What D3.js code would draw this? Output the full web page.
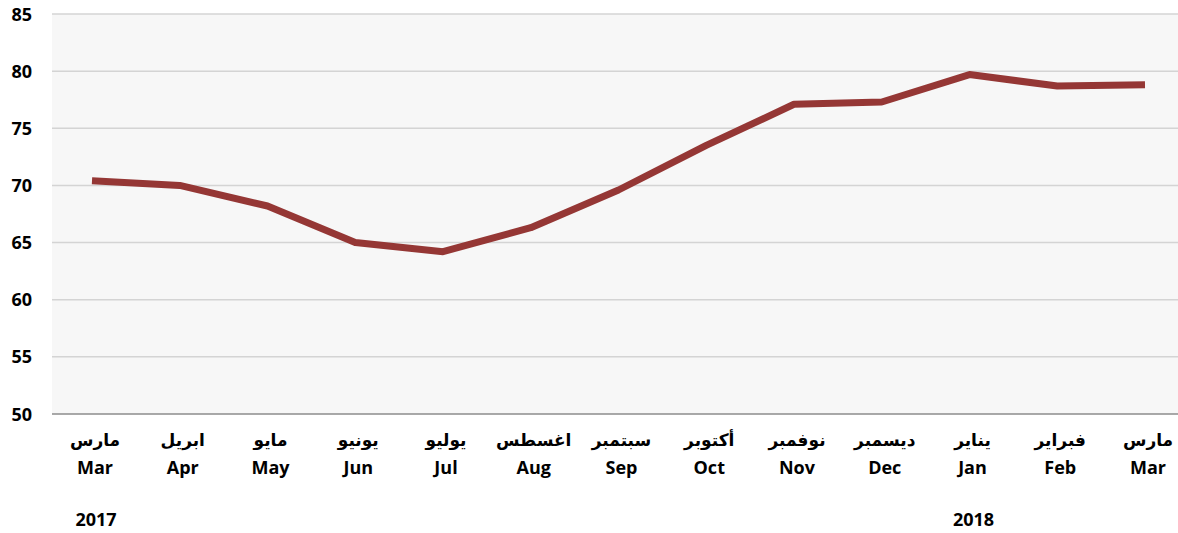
<!DOCTYPE html>
<html>
<head>
<meta charset="utf-8">
<script src="https://cdn.jsdelivr.net/npm/d3@7"></script>
<style>
  body { margin: 0; background: #fff; }
  text { font-family: "Open Sans", "DejaVu Sans", sans-serif; font-weight: bold; fill: #000; }
</style>
</head>
<body>
<script>
// data
var monthsEn = ["Mar", "Apr", "May", "Jun", "Jul", "Aug", "Sep", "Oct", "Nov", "Dec", "Jan", "Feb", "Mar"];
var monthsAr = ["مارس", "ابريل", "مايو", "يونيو", "يوليو", "اغسطس", "سبتمبر", "أكتوبر", "نوفمبر", "ديسمبر", "يناير", "فبراير", "مارس"];
var values = [70.4, 70.0, 68.2, 65.0, 64.2, 66.3, 69.6, 73.5, 77.1, 77.3, 79.7, 78.7, 78.8];
var yTicks = [50, 55, 60, 65, 70, 75, 80, 85];
var years = [{label: "2017", index: 0}, {label: "2018", index: 10}];

var width = 1178, height = 533;
var plot = {left: 52, right: 1178, top: 14, bottom: 414};

let svg = d3.select("body").append("svg")
  .attr("width", width)
  .attr("height", height);

var idx = d3.range(values.length);

var x = d3.scalePoint()
  .domain(idx)
  .range([92, 1145]);

var y = d3.scaleLinear()
  .domain([50, 85])
  .range([plot.bottom, plot.top]);

// plot background
svg.append("rect")
  .attr("x", plot.left)
  .attr("y", plot.top)
  .attr("width", plot.right - plot.left)
  .attr("height", plot.bottom - plot.top)
  .attr("fill", "#f7f7f7");

// grid lines
svg.append("g")
  .selectAll("line")
  .data(yTicks.filter(d => d > 50))
  .enter()
  .append("line")
  .attr("x1", plot.left)
  .attr("x2", plot.right)
  .attr("y1", d => y(d))
  .attr("y2", d => y(d))
  .attr("stroke", "#d4d4d4")
  .attr("stroke-width", 1.5);

// baseline
svg.append("line")
  .attr("x1", plot.left)
  .attr("x2", plot.right)
  .attr("y1", y(50))
  .attr("y2", y(50))
  .attr("stroke", "#8c8c8c")
  .attr("stroke-width", 1.5);

// y axis labels
svg.append("g")
  .selectAll("text")
  .data(yTicks)
  .enter()
  .append("text")
  .attr("x", 32)
  .attr("y", d => y(d) + 6.5)
  .attr("text-anchor", "end")
  .style("font-size", "18px")
  .text(d => d);

// x labels
let xl = svg.append("g");
xl.selectAll(".ar")
  .data(idx)
  .enter()
  .append("text")
  .attr("class", "ar")
  .attr("x", d => x(d) + 3)
  .attr("y", 446)
  .attr("text-anchor", "middle")
  .style("font-size", "17px")
  .text(d => monthsAr[d]);

xl.selectAll(".en")
  .data(idx)
  .enter()
  .append("text")
  .attr("class", "en")
  .attr("x", d => x(d) + 3)
  .attr("y", 474)
  .attr("text-anchor", "middle")
  .style("font-size", "18px")
  .text(d => monthsEn[d]);

svg.append("g")
  .selectAll("text")
  .data(years)
  .enter()
  .append("text")
  .attr("x", d => x(d.index) + 4)
  .attr("y", 526)
  .attr("text-anchor", "middle")
  .style("font-size", "18px")
  .text(d => d.label);

// line
var line = d3.line()
  .x((d, i) => x(i))
  .y(d => y(d));

svg.append("path")
  .datum(values)
  .attr("d", line)
  .attr("fill", "none")
  .attr("stroke", "#953735")
  .attr("stroke-width", 7)
  .attr("stroke-linejoin", "round");
</script>
</body>
</html>
